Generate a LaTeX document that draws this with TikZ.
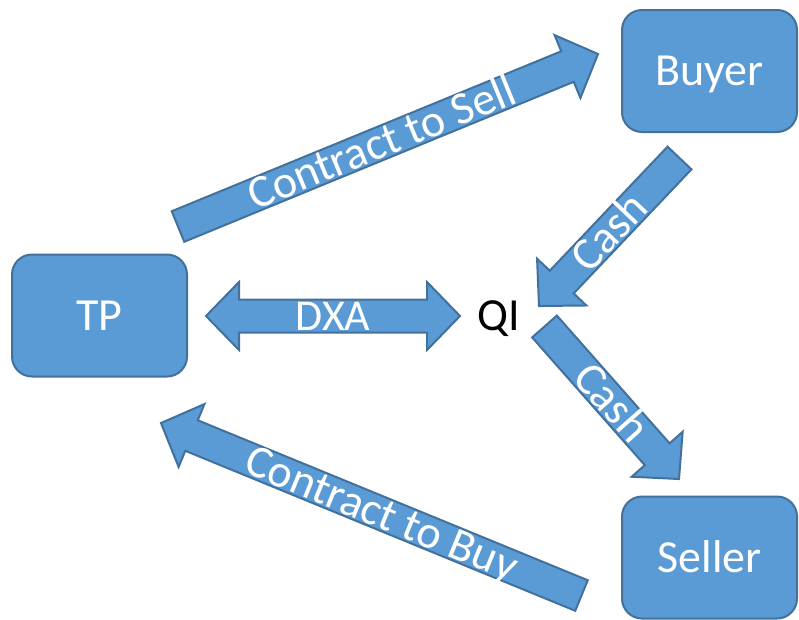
\documentclass[tikz,border=0pt]{standalone}
\usepackage{fontspec}
\setmainfont{Carlito}
\usetikzlibrary{calc}

\definecolor{shapefill}{HTML}{5B9BD5}
\definecolor{shapeline}{HTML}{41719C}

\tikzset{
  blk/.style={fill=shapefill, draw=shapeline, line width=2pt, line join=miter},
  big/.style={font=\fontsize{46}{52}\selectfont, text height=29pt, text depth=0pt, inner sep=0pt},
  party/.style={blk, big, rounded corners=20pt, minimum width=175pt, minimum height=122pt, text=white},
  lbl/.style={big, text=white},
}

% single block arrow: name, tail centre, tip
\newcommand\blockarrow[3]{%
  \coordinate (#1-b) at ($(#3)!33pt!(#2)$);
  \draw[blk] ($(#2)!16.5pt!90:(#3)$) -- ($(#1-b)!16.5pt!90:(#3)$) -- ($(#1-b)!34pt!90:(#3)$)
    -- (#3) -- ($(#1-b)!34pt!-90:(#3)$) -- ($(#1-b)!16.5pt!-90:(#3)$)
    -- ($(#2)!16.5pt!-90:(#3)$) -- cycle;
}

\begin{document}
\begin{tikzpicture}[x=1pt, y=-1pt]
  \useasboundingbox (0,0) rectangle (799,619);

  % parties
  \node[party] (tp) at (99.5,315.5) {TP};
  \node[party] (buyer) at (709.5,71) {Buyer};
  \node[party] (seller) at (709.5,557.5) {Seller};
  \node[big] (qi) at (499,316) {QI};

  % arrow end points
  \coordinate (sellT) at (178,226.5);   \coordinate (sellP) at (598,54);
  \coordinate (cashAT) at (679.5,158);  \coordinate (cashAP) at (539,306);
  \coordinate (cashBT) at (544.5,326.5);\coordinate (cashBP) at (679,479);
  \coordinate (buyT) at (581.5,595.5);  \coordinate (buyP) at (161,423);
  \coordinate (dxaL) at (206,316);      \coordinate (dxaR) at (460,316);

  \blockarrow{sell}{sellT}{sellP}
  \blockarrow{casha}{cashAT}{cashAP}
  \blockarrow{cashb}{cashBT}{cashBP}
  \blockarrow{buy}{buyT}{buyP}

  % two-headed arrow
  \coordinate (dxaL-b) at ($(dxaL)!33pt!(dxaR)$);
  \coordinate (dxaR-b) at ($(dxaR)!33pt!(dxaL)$);
  \draw[blk] (dxaL) -- ($(dxaL-b)!34pt!90:(dxaR)$) -- ($(dxaL-b)!16.5pt!90:(dxaR)$)
    -- ($(dxaR-b)!16.5pt!-90:(dxaL)$) -- ($(dxaR-b)!34pt!-90:(dxaL)$) -- (dxaR)
    -- ($(dxaR-b)!34pt!90:(dxaL)$) -- ($(dxaR-b)!16.5pt!90:(dxaL)$)
    -- ($(dxaL-b)!16.5pt!-90:(dxaR)$) -- ($(dxaL-b)!34pt!-90:(dxaR)$) -- cycle;

  % labels on the arrows
  \path (sellT) -- node[lbl, sloped, pos=0.485] (sellLbl) {Contract to Sell} (sellP);
  \path (cashAT) -- node[lbl, sloped] (cashALbl) {Cash} (cashAP);
  \path (cashBT) -- node[lbl, sloped] (cashBLbl) {Cash} (cashBP);
  \path (buyT) -- node[lbl, sloped, pos=0.475] (buyLbl) {Contract to Buy} (buyP);
  \path (dxaL) -- node[lbl, font=\fontsize{44}{50}\selectfont] (dxaLbl) {DXA} (dxaR);
\end{tikzpicture}
\end{document}
